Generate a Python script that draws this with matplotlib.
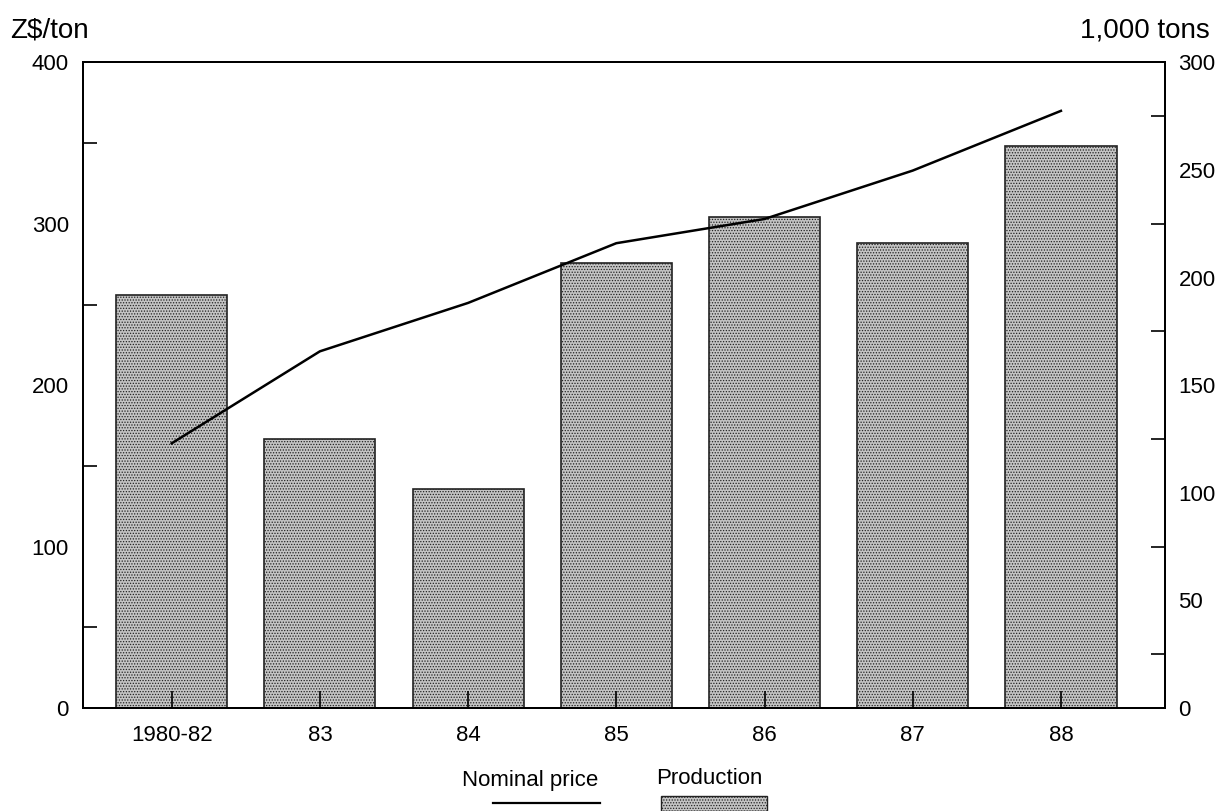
import matplotlib.pyplot as plt
from matplotlib.lines import Line2D
from matplotlib.patches import Rectangle

plt.rcParams['font.family'] = ['Liberation Sans', 'DejaVu Sans']
plt.rcParams['hatch.color'] = '#4a4a4a'
plt.rcParams['hatch.linewidth'] = 0.6

years = ['1980-82', '83', '84', '85', '86', '87', '88']
price = [164, 221, 251, 288, 303, 333, 370]          # Z$/ton, left axis
production = [192, 125, 102, 207, 228, 216, 261]     # 1,000 tons, right axis

left_ticks = [0, 100, 200, 300, 400]
right_ticks = [0, 50, 100, 150, 200, 250, 300]

fig = plt.figure(figsize=(12.17, 8.11), dpi=100)
ax = fig.add_axes([0.068, 0.127, 0.889, 0.796])
ax2 = ax.twinx()

x = list(range(len(years)))

# bars on the right axis
ax2.bar(x, production, width=0.75, facecolor='#c4c4c4', edgecolor='#222222',
        linewidth=1.2, hatch='......', zorder=2)
ax2.set_ylim(0, 300)
ax2.set_yticks(right_ticks)
ax2.set_yticks([25, 75, 125, 175, 225, 275], minor=True)
ax2.tick_params(axis='y', which='major', length=0, pad=10, labelsize=16)
ax2.tick_params(axis='y', which='minor', direction='in', length=10, width=1.2)

# price line on the left axis, drawn above the bars
ax.set_zorder(ax2.get_zorder() + 1)
ax.patch.set_visible(False)
ax.plot(x, price, color='black', linewidth=1.8)
ax.set_ylim(0, 400)
ax.set_xlim(-0.6, 6.7)
ax.set_yticks(left_ticks)
ax.set_yticks([50, 150, 250, 350], minor=True)
ax.tick_params(axis='y', which='major', length=0, pad=10, labelsize=16)
ax.tick_params(axis='y', which='minor', direction='in', length=10, width=1.2)
ax.set_xticks(x)
ax.set_xticklabels(years)
ax.tick_params(axis='x', direction='in', length=12, width=1.2, pad=12, labelsize=16)

for a in (ax, ax2):
    for s in a.spines.values():
        s.set_linewidth(1.4)

narrow = ['Liberation Sans Narrow', 'Liberation Sans', 'DejaVu Sans']
fig.text(0.008, 0.962, 'Z$/ton', fontsize=20, family=narrow, ha='left', va='center')
fig.text(0.994, 0.962, '1,000 tons', fontsize=20, family=narrow, ha='right', va='center')

# legend: labels above keys
fig.text(0.436, 0.037, 'Nominal price', fontsize=16, ha='center', va='center')
fig.add_artist(Line2D([0.405, 0.493], [0.01, 0.01], color='black', linewidth=1.6,
                      transform=fig.transFigure))
fig.text(0.583, 0.040, 'Production', fontsize=16, ha='center', va='center')
fig.add_artist(Rectangle((0.543, 0.0), 0.087, 0.018, facecolor='#c4c4c4',
                         edgecolor='#222222', hatch='......', linewidth=1.0,
                         transform=fig.transFigure))

fig.savefig('out.png', dpi=100)
